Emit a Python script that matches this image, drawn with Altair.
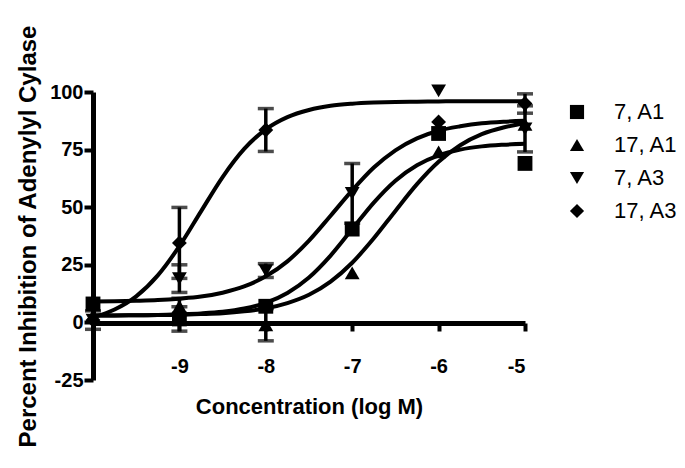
import altair as alt
import pandas as pd

# ---- data ----
series_names = ["7, A1", "17, A1", "7, A3", "17, A3"]
shapes = ["square", "triangle-up", "triangle-down", "diamond"]

# measured points (log M)
conc = [-10, -9, -8, -7, -6, -5]
pts_7A1 = [8, 1.5, 7, 40.5, 82, 69]
err_7A1 = [None, 5.3, None, None, None, None]
pts_17A1 = [3, 7, -1, 21.5, 74, 86]
err_17A1 = [None, 3.5, 7, None, None, None]
pts_7A3 = [1, 19, 22.5, 56, 100.5, 84]
err_7A3 = [4, 6, 3, 13, None, 10]
pts_17A3 = [1, 34.5, 83.5, None, 87, 95]
err_17A3 = [None, 15.4, 9.3, None, None, 4.2]

# fitted curves at these concentrations
curve_x = [-10, -9.75, -9.5, -9.25, -9, -8.75, -8.5, -8.25, -8, -7.75, -7.5,
           -7.25, -7, -6.75, -6.5, -6.25, -6, -5.75, -5.5, -5.25, -5]
curve_7A1 = [3.0, 3.0, 3.1, 3.2, 3.5, 3.9, 4.6, 6.0, 8.5, 12.8, 19.5,
             29.0, 40.5, 52.0, 61.5, 68.2, 72.5, 75.0, 76.4, 77.1, 77.5]
curve_17A1 = [3.0, 3.0, 3.1, 3.2, 3.3, 3.6, 4.0, 4.8, 6.1, 8.4, 12.0,
              17.7, 25.9, 36.5, 48.4, 60.0, 69.7, 76.9, 81.7, 84.6, 86.4]
curve_7A3 = [9.1, 9.2, 9.4, 9.7, 10.3, 11.2, 12.9, 15.6, 20.0, 26.5, 35.5,
             46.3, 57.3, 67.2, 74.7, 79.9, 83.2, 85.1, 86.4, 87.1, 87.5]
curve_17A3 = [2.2, 5.6, 11.3, 20.4, 33.1, 48.2, 63.1, 75.3, 83.8, 89.1, 92.2,
              94.0, 94.9, 95.4, 95.7, 95.8, 95.9, 96.0, 96.0, 96.0, 96.0]

y_ticks = [-25, 0, 25, 50, 75, 100]
x_ticks = [-9, -8, -7, -6, -5]

# ---- tables ----
pts = {"7, A1": (pts_7A1, err_7A1), "17, A1": (pts_17A1, err_17A1),
       "7, A3": (pts_7A3, err_7A3), "17, A3": (pts_17A3, err_17A3)}
curves = {"7, A1": curve_7A1, "17, A1": curve_17A1,
          "7, A3": curve_7A3, "17, A3": curve_17A3}

prow, erow, crow, caprow = [], [], [], []
for s in series_names:
    vals, errs = pts[s]
    for x, v, e in zip(conc, vals, errs):
        if v is None:
            continue
        prow.append({"x": x, "y": v, "series": s})
        if e is not None:
            erow.append({"x": x, "lo": v - e, "hi": v + e, "series": s})
            caprow.append({"x": x, "y": v - e, "series": s})
            caprow.append({"x": x, "y": v + e, "series": s})
    for x, v in zip(curve_x, curves[s]):
        crow.append({"x": x, "y": v, "series": s})

df_p = pd.DataFrame(prow)
df_e = pd.DataFrame(erow)
df_c = pd.DataFrame(crow)
df_cap = pd.DataFrame(caprow)

FONT = "Liberation Sans"

xscale = alt.Scale(domain=[-10, -5], nice=False, zero=False)
yscale = alt.Scale(domain=[-25, 100], nice=False, zero=False)

xaxis = alt.Axis(values=x_ticks, offset=-57, domainWidth=5, domainColor="black",
                 tickWidth=4, tickSize=8, tickColor="black", grid=False,
                 labelExpr="'' + datum.value",
                 labelFontSize=20, labelFontWeight="bold", labelColor="black",
                 labelPadding=25, labelFont=FONT,
                 title="Concentration (log M)", titleFontSize=22,
                 titleFontWeight="bold", titleColor="black", titleFont=FONT,
                 titlePadding=20)
yaxis = alt.Axis(values=y_ticks, domainWidth=5, domainColor="black",
                 tickWidth=4, tickSize=9, tickColor="black", grid=False,
                 labelExpr="'' + datum.value",
                 labelFontSize=20, labelFontWeight="bold", labelColor="black",
                 labelPadding=1, labelFont=FONT,
                 title="Percent Inhibition of Adenylyl Cylase", titleFontSize=24,
                 titleFontWeight="bold", titleColor="black", titleFont=FONT,
                 titlePadding=9)

lines = alt.Chart(df_c).mark_line(color="black", strokeWidth=4,
                                  interpolate="monotone").encode(
    x=alt.X("x:Q", scale=xscale, axis=xaxis),
    y=alt.Y("y:Q", scale=yscale, axis=yaxis),
    detail="series:N",
)

rules = alt.Chart(df_e).mark_rule(color="black", strokeWidth=3.5).encode(
    x=alt.X("x:Q", scale=xscale),
    y=alt.Y("lo:Q", scale=yscale),
    y2="hi:Q",
)

caps = alt.Chart(df_cap).mark_tick(color="black", orient="horizontal",
                                   size=16, thickness=3.5).encode(
    x=alt.X("x:Q", scale=xscale),
    y=alt.Y("y:Q", scale=yscale),
)

points = alt.Chart(df_p).mark_point(filled=True, color="black", opacity=1,
                                    size=220).encode(
    x=alt.X("x:Q", scale=xscale),
    y=alt.Y("y:Q", scale=yscale),
    shape=alt.Shape("series:N",
                    scale=alt.Scale(domain=series_names, range=shapes),
                    legend=alt.Legend(title=None, orient="none",
                                      legendX=473, legendY=9,
                                      labelFontSize=22, labelFont=FONT,
                                      labelColor="black", symbolSize=200,
                                      symbolFillColor="black",
                                      symbolStrokeColor="black",
                                      symbolOpacity=1,
                                      rowPadding=11, labelOffset=26)),
)

chart = alt.layer(lines, rules, caps, points).properties(
    width=432, height=288,
    padding={"left": 85, "top": 84, "right": 152, "bottom": 80},
    autosize=alt.AutoSizeParams(type="none"),
    background="white",
).configure_view(stroke=None)

chart.save("out.html", embed_options={"renderer": "svg", "actions": False})
